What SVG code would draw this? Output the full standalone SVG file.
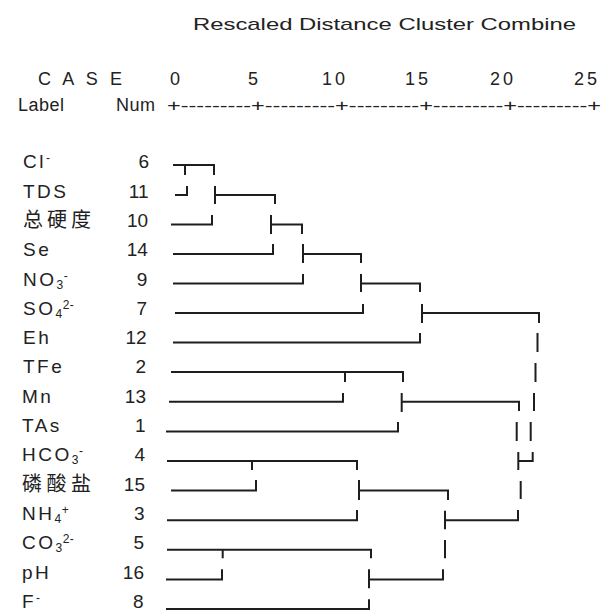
<svg xmlns="http://www.w3.org/2000/svg" width="614" height="612" viewBox="0 0 614 612">
<style>
text{font-family:"Liberation Sans",Arial,"Noto Sans CJK SC",sans-serif;font-size:19px;fill:#222}
.lb{letter-spacing:2.5px}
.h{font-size:18px}
.t{font-size:17px}
.cjk{font-family:"Noto Sans CJK SC","Liberation Sans",sans-serif;font-size:20px}
.num{text-anchor:end}
.s{font-size:12px;letter-spacing:0.5px}
.ln{fill:none;stroke:#1e1e1e;stroke-width:2}
</style>
<rect width="614" height="612" fill="#fff"/>
<g id="header">
<text class="t" x="193" y="30" textLength="383" lengthAdjust="spacingAndGlyphs">Rescaled Distance Cluster Combine</text>
<text class="h" x="38" y="85" textLength="84" lengthAdjust="spacing">C A S E</text>
<text class="h" x="170" y="85">0</text>
<text class="h" x="248" y="85">5</text>
<text class="h" x="322" y="85" textLength="23" lengthAdjust="spacing">10</text>
<text class="h" x="405" y="85" textLength="23" lengthAdjust="spacing">15</text>
<text class="h" x="490" y="85" textLength="23" lengthAdjust="spacing">20</text>
<text class="h" x="574" y="85" textLength="23" lengthAdjust="spacing">25</text>
<text class="h" x="18" y="111" textLength="46" lengthAdjust="spacing">Label</text>
<text class="h" x="116" y="111" textLength="39" lengthAdjust="spacing">Num</text>
<text class="t" x="167" y="111" textLength="434" lengthAdjust="spacingAndGlyphs">+---------+---------+---------+---------+---------+</text>
</g>
<g id="leaf-Cl"><text class="lb" x="23" y="168.3">Cl<tspan class="s" dy="-6">-</tspan></text><text class="num" x="149" y="168.3">6</text></g>
<g id="leaf-TDS"><text class="lb" x="23" y="197.6">TDS</text><text class="num" x="148.6" y="197.6">11</text></g>
<g id="leaf-hardness"><text class="cjk" x="23" y="226.9" textLength="68" lengthAdjust="spacing">总硬度</text><text class="num" x="148.2" y="226.9">10</text></g>
<g id="leaf-Se"><text class="lb" x="23" y="256.2">Se</text><text class="num" x="147.8" y="256.2">14</text></g>
<g id="leaf-NO3"><text class="lb" x="23" y="285.5">NO<tspan class="s" dy="3">3</tspan><tspan class="s" dy="-9">-</tspan></text><text class="num" x="147.4" y="285.5">9</text></g>
<g id="leaf-SO4"><text class="lb" x="23" y="314.8">SO<tspan class="s" dy="3">4</tspan><tspan class="s" dy="-9">2-</tspan></text><text class="num" x="147" y="314.8">7</text></g>
<g id="leaf-Eh"><text class="lb" x="23" y="344.1">Eh</text><text class="num" x="146.6" y="344.1">12</text></g>
<g id="leaf-TFe"><text class="lb" x="23" y="373.4">TFe</text><text class="num" x="146.2" y="373.4">2</text></g>
<g id="leaf-Mn"><text class="lb" x="22" y="402.7">Mn</text><text class="num" x="146" y="402.7">13</text></g>
<g id="leaf-TAs"><text class="lb" x="22" y="432">TAs</text><text class="num" x="145.6" y="432">1</text></g>
<g id="leaf-HCO3"><text class="lb" x="22" y="461.3">HCO<tspan class="s" dy="3">3</tspan><tspan class="s" dy="-9">-</tspan></text><text class="num" x="145.2" y="461.3">4</text></g>
<g id="leaf-phosphate"><text class="cjk" x="22" y="490.6" textLength="69" lengthAdjust="spacing">磷酸盐</text><text class="num" x="145" y="490.6">15</text></g>
<g id="leaf-NH4"><text class="lb" x="22" y="519.9">NH<tspan class="s" dy="3">4</tspan><tspan class="s" dy="-9">+</tspan></text><text class="num" x="144.6" y="519.9">3</text></g>
<g id="leaf-CO3"><text class="lb" x="22" y="549.2">CO<tspan class="s" dy="3">3</tspan><tspan class="s" dy="-9">2-</tspan></text><text class="num" x="144.2" y="549.2">5</text></g>
<g id="leaf-pH"><text class="lb" x="22" y="578.5">pH</text><text class="num" x="144" y="578.5">16</text></g>
<g id="leaf-F"><text class="lb" x="22" y="607.8">F<tspan class="s" dy="-6">-</tspan></text><text class="num" x="143.6" y="607.8">8</text></g>
<g id="connectors" class="ln">
<path class="ln" d="M173 165H214V175M185 165V175
M175 195H187V186M215 186V204M215 195H275V204
M171 224.5H212V215M271 215V234M271 224.5H302V234
M173 254H273V244M303 244V263M303 254H361V263
M173 283.5H303V274M361 274V292M361 283.5H420V292
M175 313H363V304M422 304V323M422 313H539V323
M173 342.5H420V333M537.5 333V352
M171 372H403V382M345 372V382M535.5 363V382
M169 401.8H343V393M401.7 393V412M401.7 401.8H519V411M534 393V411
M166 431.4H398V422M516.7 422V441M530.7 422V441
M167 461H357V470M252 461V470M518.3 452V470M518.3 461H532.7V452
M171 490.6H256V480M359 480V500M359 490.6H448V500M520.7 481V499
M167 520.2H357V510M445 510.7V529.3M445 520.2H518V510
M167 549.8H371V558.3M222.7 549.8V558.3M445 540V558.3
M166 579.4H222V569.3M369 569.3V588.3M369 579.4H443V569.3
M166 609H369V599.3"/>
</g>
</svg>
